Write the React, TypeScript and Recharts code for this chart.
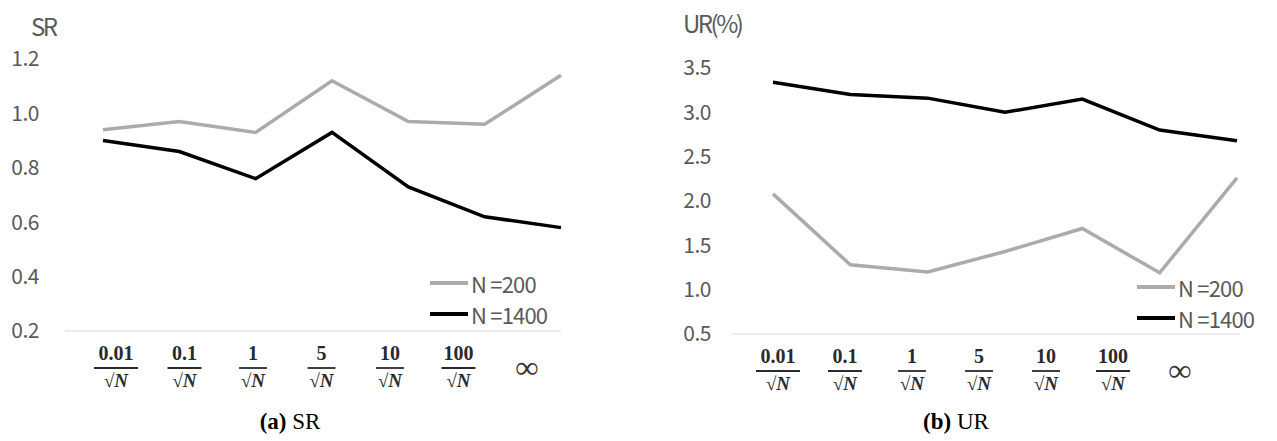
import React from 'react';
import { LineChart, Line, XAxis, YAxis, Legend } from 'recharts';

// x categories (0.01/√N ... ∞)
const categories = ['0.01', '0.1', '1', '5', '10', '100', 'inf'];

// (a) SR
const srN200 = [0.94, 0.97, 0.93, 1.12, 0.97, 0.96, 1.14];
const srN1400 = [0.9, 0.86, 0.76, 0.93, 0.73, 0.62, 0.58];
const srTicks = [0.2, 0.4, 0.6, 0.8, 1.0, 1.2];

// (b) UR (%)
const urN200 = [2.08, 1.28, 1.2, 1.43, 1.69, 1.19, 2.26];
const urN1400 = [3.34, 3.2, 3.16, 3.0, 3.15, 2.8, 2.68];
const urTicks = [0.5, 1.0, 1.5, 2.0, 2.5, 3.0, 3.5];

const seriesNames = ['N =200', 'N =1400'];

const srData = categories.map((k, i) => ({ k, a: srN200[i], b: srN1400[i] }));
const urData = categories.map((k, i) => ({ k, a: urN200[i], b: urN1400[i] }));

const GRAY = '#AEAAAA';
const BLACK = '#000000';
const TEXT = '#595959';
const SANS = '"Noto Sans CJK JP", "Noto Sans", sans-serif';
const SERIF = '"Liberation Serif", "DejaVu Serif", serif';

const FracTick = (props: any) => {
  const { x, y, payload } = props;
  const v = String(payload.value);
  if (v === 'inf') {
    return (
      <text x={x} y={y + 39} textAnchor="middle" fontFamily={SERIF} fontSize={32} fontWeight={600} fill="#333">
        ∞
      </text>
    );
  }
  const w = Math.max(28, v.length * 10 + 4);
  return (
    <g transform={`translate(${x},${y})`}>
      <text x={0} y={21} textAnchor="middle" fontFamily={SERIF} fontSize={20} fontWeight={600} fill="#2a2a2a">
        {v}
      </text>
      <line x1={-w / 2} x2={w / 2} y1={29} y2={29} stroke="#2a2a2a" strokeWidth={1.8} />
      <text x={0} y={48} textAnchor="middle" fontFamily={SERIF} fontSize={19} fill="#2a2a2a">
        √<tspan fontStyle="italic" fontWeight={600}>N</tspan>
      </text>
    </g>
  );
};

const LegendBox = () => (
  <div style={{ fontFamily: SANS, fontSize: 22, color: TEXT, letterSpacing: -0.8, lineHeight: '26px' }}>
    {seriesNames.map((n, i) => (
      <div key={n} style={{ display: 'flex', alignItems: 'center', height: i === 0 ? 33 : 30 }}>
        <div style={{ width: 38, height: 4, background: i === 0 ? GRAY : BLACK, marginRight: 3 }} />
        <span>{n}</span>
      </div>
    ))}
  </div>
);

interface PanelProps {
  data: { k: string; a: number; b: number }[];
  ticks: number[];
  width: number;
  top: number;
  axisH: number;
  yW: number;
  tickGap: number;
  right: number;
  dataPad: { left: number; right: number };
  labelPad: { left: number; right: number };
  legendPos: { left: number; top: number };
}

const Panel = (p: PanelProps) => (
  <LineChart
    width={p.width}
    height={441}
    data={p.data}
    margin={{ top: p.top, right: p.right, left: 0, bottom: 0 }}
  >
    <XAxis xAxisId="d" dataKey="k" hide height={0} padding={p.dataPad} />
    <XAxis
      xAxisId="lbl"
      dataKey="k"
      height={p.axisH}
      padding={p.labelPad}
      axisLine={{ stroke: '#D9D9D9' }}
      tickLine={false}
      interval={0}
      tick={<FracTick />}
    />
    <YAxis
      domain={[p.ticks[0], p.ticks[p.ticks.length - 1]]}
      ticks={p.ticks}
      width={p.yW}
      axisLine={false}
      tickLine={false}
      tickSize={0}
      tickMargin={p.tickGap}
      tickFormatter={(v: number) => v.toFixed(1)}
      tick={{ fill: TEXT, fontSize: 21, fontFamily: SANS, letterSpacing: -0.5 }}
    />
    <Line
      xAxisId="d"
      dataKey="a"
      name={seriesNames[0]}
      stroke={GRAY}
      strokeWidth={3.5}
      dot={false}
      isAnimationActive={false}
    />
    <Line
      xAxisId="d"
      dataKey="b"
      name={seriesNames[1]}
      stroke={BLACK}
      strokeWidth={3.5}
      dot={false}
      isAnimationActive={false}
    />
    <Legend
      layout="vertical"
      align="center"
      verticalAlign="middle"
      content={<LegendBox />}
      wrapperStyle={{ position: 'absolute', left: p.legendPos.left, top: p.legendPos.top, width: 'auto' }}
    />
  </LineChart>
);

const Caption = ({ label, text, x }: { label: string; text: string; x: number }) => (
  <div
    style={{
      position: 'absolute',
      left: x - 60,
      width: 120,
      top: 409,
      textAlign: 'center',
      fontFamily: SERIF,
      fontSize: 23,
      color: '#000',
    }}
  >
    <b>({label})</b> {text}
  </div>
);

const AxisTitle = ({ text, x, y }: { text: string; x: number; y: number }) => (
  <div
    style={{
      position: 'absolute',
      left: x,
      top: y,
      fontFamily: SANS,
      fontSize: 24,
      color: TEXT,
      letterSpacing: -2.5,
      lineHeight: '28px',
    }}
  >
    {text}
  </div>
);

export default function App() {
  return (
    <div style={{ position: 'absolute', left: 0, top: 0, width: 1277, height: 441, background: '#fff', overflow: 'hidden' }}>
      <div style={{ position: 'absolute', left: 0, top: 0 }}>
        <Panel
          data={srData}
          ticks={srTicks}
          width={620}
          top={59}
          axisH={110}
          yW={65}
          tickGap={26}
          right={59}
          dataPad={{ left: 38, right: 0 }}
          labelPad={{ left: 51, right: 34 }}
          legendPos={{ left: 430, top: 266 }}
        />
      </div>
      <div style={{ position: 'absolute', left: 640, top: 0 }}>
        <Panel
          data={urData}
          ticks={urTicks}
          width={637}
          top={68}
          axisH={107}
          yW={92}
          tickGap={21}
          right={37}
          dataPad={{ left: 41, right: 3 }}
          labelPad={{ left: 46, right: 60 }}
          legendPos={{ left: 497, top: 270 }}
        />
      </div>
      <AxisTitle text="SR" x={31} y={12} />
      <AxisTitle text="UR(%)" x={683} y={9} />
      <Caption label="a" text="SR" x={290} />
      <Caption label="b" text="UR" x={956} />
    </div>
  );
}
